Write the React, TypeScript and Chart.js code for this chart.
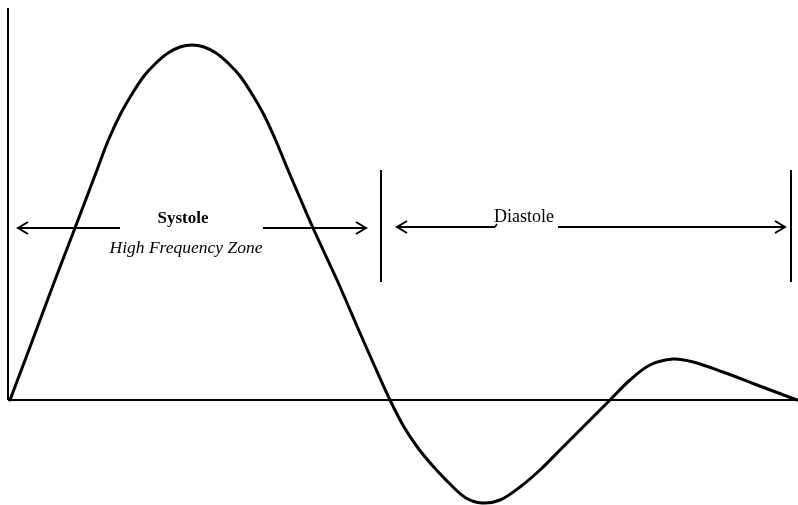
import React, { useEffect, useRef } from "react";
import { Chart, registerables } from "chart.js";

Chart.register(...registerables);

// Doppler-like velocity waveform over one cardiac cycle (arbitrary units)
const timeUnits = [2, 22, 47, 67, 89, 100, 112, 124, 136, 148, 160, 172, 184, 196, 208, 220, 232, 244, 256, 268, 280, 292, 305, 329, 352, 367, 382, 396, 410, 424, 442, 458, 474, 492, 512, 532, 552, 582, 602, 622, 642, 665, 685, 715, 749, 789];
const velocity = [0, 53, 120, 172, 230, 259, 285, 306, 324, 337, 347, 353, 355, 353, 347, 337, 324, 306, 285, 259, 230, 202, 172, 120, 67, 33, 0, -27, -48, -65, -84, -98, -103, -100, -87, -70, -50, -20, 0, 20, 35, 41, 38, 28, 15, 0];

// Axis extents (data units)
const X_MIN = -8;
const X_MAX = 790;
const Y_MIN = -105;
const Y_MAX = 400;
const Y_AXIS_TOP = 392;

// Phase boundaries (time) and annotation extents
const phaseBoundaries = [373, 783];
const boundaryRange = [118, 230];
const systoleArrows = [
  { from: 112, to: 10 },
  { from: 255, to: 358 },
];
const diastoleArrows = [
  { from: 487, to: 389 },
  { from: 550, to: 777 },
];
const arrowLevel = 172;
const phaseLabels = ["Systole", "Diastole"];
const zoneLabel = "High Frequency Zone";
const labelTimes = [175, 516, 178];
const labelLevels = [177, 178, 147];

const annotationPlugin = {
  id: "cycleAnnotations",
  beforeDatasetsDraw(chart: any) {
    const { ctx, scales } = chart;
    const xs = scales.x;
    const ys = scales.y;
    ctx.save();
    ctx.strokeStyle = "#000";
    ctx.lineWidth = 2;
    ctx.lineCap = "butt";
    // y axis
    ctx.beginPath();
    ctx.moveTo(xs.getPixelForValue(0), ys.getPixelForValue(Y_AXIS_TOP));
    ctx.lineTo(xs.getPixelForValue(0), ys.getPixelForValue(0));
    ctx.stroke();
    // x axis (baseline)
    ctx.beginPath();
    ctx.moveTo(xs.getPixelForValue(0), ys.getPixelForValue(0));
    ctx.lineTo(xs.getPixelForValue(X_MAX), ys.getPixelForValue(0));
    ctx.stroke();
    ctx.restore();
  },
  afterDatasetsDraw(chart: any) {
    const { ctx, scales } = chart;
    const xs = scales.x;
    const ys = scales.y;
    ctx.save();
    ctx.strokeStyle = "#000";
    ctx.fillStyle = "#000";
    ctx.lineWidth = 2;
    ctx.lineCap = "butt";
    ctx.lineJoin = "miter";

    // phase boundary bars
    phaseBoundaries.forEach((t) => {
      const px = Math.round(xs.getPixelForValue(t));
      ctx.beginPath();
      ctx.moveTo(px, ys.getPixelForValue(boundaryRange[1]));
      ctx.lineTo(px, ys.getPixelForValue(boundaryRange[0]));
      ctx.stroke();
    });

    const drawArrow = (from: number, to: number, level: number) => {
      const x1 = xs.getPixelForValue(from);
      const x2 = xs.getPixelForValue(to);
      const y = Math.round(ys.getPixelForValue(level));
      const dir = x2 > x1 ? 1 : -1;
      ctx.beginPath();
      ctx.moveTo(x1, y);
      ctx.lineTo(x2, y);
      ctx.stroke();
      ctx.beginPath();
      ctx.moveTo(x2 - dir * 10, y - 6);
      ctx.lineTo(x2, y);
      ctx.lineTo(x2 - dir * 10, y + 6);
      ctx.stroke();
    };
    systoleArrows.forEach((a) => drawArrow(a.from, a.to, arrowLevel));
    diastoleArrows.forEach((a) => drawArrow(a.from, a.to, arrowLevel + 1));

    // small hook at the inner end of the left diastole line
    {
      const x = xs.getPixelForValue(diastoleArrows[0].from);
      const y = Math.round(ys.getPixelForValue(arrowLevel + 1));
      ctx.lineWidth = 1.5;
      ctx.beginPath();
      ctx.moveTo(x, y);
      ctx.lineTo(x + 2, y - 3);
      ctx.stroke();
    }

    ctx.textAlign = "center";
    ctx.textBaseline = "alphabetic";
    ctx.font = "bold 17px 'Liberation Serif', 'Times New Roman', serif";
    ctx.fillText(phaseLabels[0], xs.getPixelForValue(labelTimes[0]), ys.getPixelForValue(labelLevels[0]));
    ctx.font = "18px 'Liberation Serif', 'Times New Roman', serif";
    ctx.fillText(phaseLabels[1], xs.getPixelForValue(labelTimes[1]), ys.getPixelForValue(labelLevels[1]));
    ctx.font = "italic 17.5px 'Liberation Serif', 'Times New Roman', serif";
    ctx.fillText(zoneLabel, xs.getPixelForValue(labelTimes[2]), ys.getPixelForValue(labelLevels[2]));
    ctx.restore();
  },
};

export default function App() {
  const canvasRef = useRef<HTMLCanvasElement | null>(null);

  useEffect(() => {
    document.body.style.margin = "0";
    document.body.style.background = "#fff";
    const canvas = canvasRef.current;
    if (!canvas) return;
    const chart = new Chart(canvas, {
      type: "line",
      data: {
        datasets: [
          {
            label: "Velocity",
            data: timeUnits.map((t, i) => ({ x: t, y: velocity[i] })),
            borderColor: "#000",
            borderWidth: 3,
            pointRadius: 0,
            fill: false,
            tension: 0.35,
            borderCapStyle: "round",
            borderJoinStyle: "round",
          },
        ],
      },
      options: {
        responsive: true,
        maintainAspectRatio: false,
        animation: false,
        layout: { padding: 0 },
        plugins: {
          legend: { display: false },
          tooltip: { enabled: false },
          title: { display: false },
        },
        scales: {
          x: { type: "linear", min: X_MIN, max: X_MAX, display: false },
          y: { type: "linear", min: Y_MIN, max: Y_MAX, display: false },
        },
      },
      plugins: [annotationPlugin],
    });
    return () => chart.destroy();
  }, []);

  return (
    <div style={{ position: "relative", width: 798, height: 505, background: "#fff" }}>
      <canvas ref={canvasRef} />
    </div>
  );
}
